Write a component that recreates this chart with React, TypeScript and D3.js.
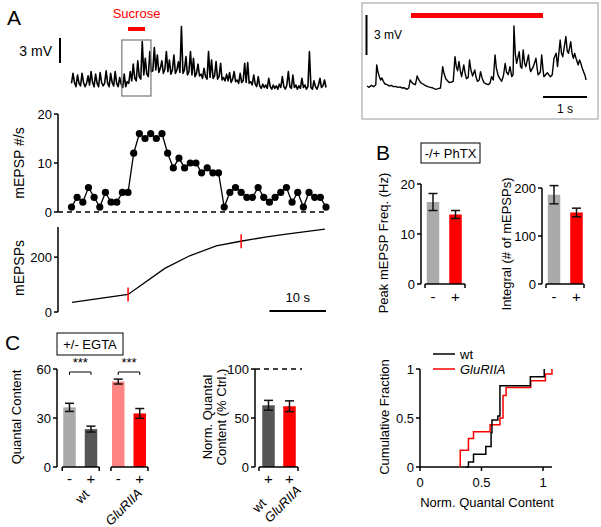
import React from "react";
import * as d3 from "d3";

const FONT = "Arial, 'Liberation Sans', Helvetica, sans-serif";

// ---------- Panel A data ----------
// main voltage trace (mV relative to baseline), evenly sampled over 45 s
const traceMain = [
  0.2, 1.4, 0.3, -0.2, 1.2, 0.2, -0.1, 1.4, 0.3, -0.2, 0.2, 1.1, 0.0, 1.6, 0.3, -0.2, 1.3, 0.2, -0.2, 1.5,
  0.3, -0.1, 0.2, 1.7, 0.2, -0.2, 1.4, 0.3, -0.1, 1.6, 0.2, -0.2, 0.9, 0.1,
  -0.3, 1.3, -0.2, 0.4, 0.2, 1.6, 0.5, 2.5, 0.8, 0.5, 2.9, 1.0, 0.7, 5.2, 1.2, 3.2, 1.3, 1.0, 4.0, 1.6,
  1.7, 4.5, 1.8, 3.6, 1.5, 2.0, 2.9, 1.4, 1.9, 4.0, 1.6, 3.0, 1.3, 1.8, 3.6, 1.4, 1.8, 2.8, 1.5, 7.0,
  1.4, 1.8, 3.4, 1.2, 1.6, 4.0, 1.2, 3.2, 1.0, 1.4, 2.5, 1.1,
  1.3, 0.8, 2.0, 1.0, 0.7, 4.0, 0.9, 3.0, 0.8, 1.1, 2.8, 0.7, 1.0, 2.6, 0.6, 0.9, 0.5, 1.3, 0.5, 1.5,
  0.3, 0.7, 1.6, 0.4, 0.6, 0.2, 1.4, 0.3, 0.5, 2.6, 0.3, 2.7, 0.2,
  0.4, 0.0, 1.2, 0.1, -0.2, 1.0, -0.1, -0.4, 0.1, -0.3, 0.0, -0.4, 0.8, -0.2, -0.5, 0.0, -0.4, -0.1, -0.5, 0.1,
  -0.3, 1.0, -0.2, -0.5, 0.0, 1.6, -0.2, -0.4, 1.2, -0.3, 0.0, -0.5, -0.1, -0.4, 0.8, -0.3, 0.0, -0.5, -0.2, 4.0,
  -0.3, -0.5, 0.5, -0.2, -0.5, 0.0, 0.8, -0.3, -0.1, 0.6, -0.3,
];
const traceDuration = 45; // s
const sucroseMain = [10, 13]; // s
const insetWindow = [8.9, 14.05]; // s

// inset trace: [time s, mV]
const insetTrace: [number, number][] = [
  [0, 0.15], [0.05, 0.05], [0.1, 0.2], [0.15, 0.1], [0.2, 0.25], [0.22, 1.73], [0.25, 1.2], [0.28, 0.85],
  [0.31, 0.6], [0.34, 0.75], [0.37, 0.5], [0.41, 0.3], [0.46, 0.25], [0.5, 0.15], [0.55, 0.2], [0.6, 0.1],
  [0.65, 0.12], [0.7, 0.05], [0.75, 0.08], [0.8, 0.0], [0.85, 0.02], [0.9, -0.1], [0.95, 0.0], [0.98, 0.6],
  [1.02, 0.4], [1.06, 0.3], [1.1, 0.25], [1.14, 0.9], [1.18, 0.6], [1.22, 0.4], [1.27, 0.3], [1.32, 0.2],
  [1.38, 0.1], [1.44, 0.05], [1.5, 0.0], [1.56, -0.1], [1.62, -0.05], [1.67, 0.0], [1.72, 1.6], [1.75, 1.1],
  [1.79, 0.7], [1.83, 0.55], [1.87, 0.4], [1.92, 0.45], [1.96, 0.5], [2.0, 2.35], [2.03, 1.6], [2.06, 1.3],
  [2.09, 2.0], [2.12, 1.3], [2.15, 0.85], [2.2, 1.73], [2.23, 1.1], [2.26, 0.7], [2.3, 0.8], [2.33, 2.1],
  [2.36, 1.4], [2.4, 0.9], [2.45, 1.35], [2.48, 0.8], [2.51, 0.5], [2.55, 0.6], [2.58, 1.23], [2.62, 0.7],
  [2.66, 0.4], [2.71, 0.3], [2.76, 0.25], [2.8, 0.4], [2.83, 0.85], [2.87, 0.6], [2.91, 2.48], [2.94, 1.5],
  [2.98, 0.95], [3.02, 0.7], [3.06, 0.5], [3.1, 0.9], [3.14, 1.85], [3.17, 1.2], [3.21, 1.0], [3.25, 1.6],
  [3.29, 0.85], [3.32, 1.0], [3.34, 4.66], [3.37, 2.6], [3.4, 1.85], [3.46, 2.73], [3.49, 1.6], [3.52, 1.48],
  [3.55, 2.86], [3.58, 1.9], [3.61, 1.6], [3.67, 2.48], [3.7, 1.5], [3.72, 1.23], [3.78, 1.6], [3.84, 2.23],
  [3.87, 1.4], [3.89, 0.98], [3.94, 1.2], [3.97, 2.48], [4.0, 1.4], [4.02, 0.85], [4.06, 1.0], [4.1, 1.15],
  [4.14, 0.95], [4.17, 0.85], [4.21, 1.0], [4.25, 2.23], [4.3, 2.6], [4.33, 1.6], [4.39, 3.6], [4.42, 2.6],
  [4.45, 2.35], [4.52, 3.86], [4.55, 2.8], [4.58, 2.6], [4.63, 3.48], [4.66, 2.6], [4.69, 2.23], [4.72, 2.6],
  [4.75, 2.23], [4.8, 1.73], [4.83, 2.1], [4.86, 1.85], [4.89, 1.5], [4.92, 1.23], [4.95, 1.0], [4.98, 0.6],
];
const sucroseInset = [1, 4];

// mEPSP frequency per second
const freqCounts = [
  1, 3, 2, 5, 3, 1, 4, 2, 2, 4, 4, 12, 16, 15, 16, 15, 16, 12, 9, 11, 9, 10, 10, 8, 9, 8, 8, 1, 4, 5,
  4, 3, 3, 5, 3, 2, 3, 4, 5, 2, 4, 1, 4, 3, 3, 1,
];
const freqTicks = [0, 10, 20];

// cumulative mEPSPs
const cumT = [0.1, 10, 16.5, 20.9, 25.6, 29.9, 34.5, 38, 44.8];
const cumV = [35, 64, 159, 205, 241, 258, 274, 284, 302];
const cumMarkT = [10, 30];
const cumMarkV = [64, 258];
const cumTicks = [0, 200];

// ---------- Panel B data ----------
const phtxCats = ["-", "+"];
const peakFreqMean = [16.4, 13.9];
const peakFreqErr = [1.7, 0.8];
const peakTicks = [0, 10, 20];
const integralMean = [186, 149];
const integralErr = [19, 9];
const integralTicks = [0, 100, 200];

// ---------- Panel C data ----------
const egtaGroups = ["wt", "GluRIIA"];
const quantalMinus = [36.5, 52.3];
const quantalMinusErr = [2.5, 1.5];
const quantalPlus = [23.2, 32.8];
const quantalPlusErr = [1.8, 3.0];
const quantalTicks = [0, 30, 60];
const normMean = [63, 62];
const normErr = [5, 5.5];
const normTicks = [0, 50, 100];

// cumulative distributions (step points: x, fraction)
const wtX = [0.372, 0.394, 0.435, 0.535, 0.578, 0.585, 0.633, 0.65, 0.897, 1.01];
const wtY = [0, 0.05, 0.13, 0.21, 0.35, 0.48, 0.52, 0.83, 0.92, 1.0];
const glX = [0.327, 0.327, 0.394, 0.435, 0.57, 0.65, 0.675, 0.7, 0.9, 1.02, 1.073];
const glY = [0, 0.17, 0.29, 0.36, 0.43, 0.5, 0.73, 0.81, 0.88, 0.95, 1.0];
const cdfTicks = [0, 0.5, 1];
const cdfTickLabels = ["0", "0.5", "1"];

const C_LGRAY = "#aaaaaa";
const C_DGRAY = "#555555";
const C_PINK = "#ff8484";
const C_RED = "#ff0000";

// rotated category label anchors (layout)
const egtaLabelPos = [[90, 495], [143, 494]];
const normLabelPos = [[267, 504], [302, 491]];

function ErrBar({ x, y1, y2, w = 9 }: { x: number; y1: number; y2: number; w?: number }) {
  return (
    <g stroke="#111" strokeWidth={1.5}>
      <line x1={x} x2={x} y1={y1} y2={y2} />
      <line x1={x - w / 2} x2={x + w / 2} y1={y1} y2={y1} />
      <line x1={x - w / 2} x2={x + w / 2} y1={y2} y2={y2} />
    </g>
  );
}

function YAxis({ x, scale, ticks, labels, top }: { x: number; scale: any; ticks: number[]; labels?: string[]; top?: number }) {
  const y0 = scale(ticks[0]);
  const y1 = top !== undefined ? top : scale(ticks[ticks.length - 1]);
  return (
    <g>
      <line x1={x} x2={x} y1={y0} y2={y1} stroke="#000" strokeWidth={1.5} />
      {ticks.map((t, i) => (
        <g key={i}>
          <line x1={x - 4} x2={x} y1={scale(t)} y2={scale(t)} stroke="#000" strokeWidth={1.5} />
          <text x={x - 6} y={scale(t)} dy="0.36em" textAnchor="end" fontSize={13}>
            {labels ? labels[i] : String(t)}
          </text>
        </g>
      ))}
    </g>
  );
}

function XSeg({ x1, x2, y }: { x1: number; x2: number; y: number }) {
  return (
    <g stroke="#000" strokeWidth={1.5}>
      <line x1={x1} x2={x2} y1={y} y2={y} />
      <line x1={x1} x2={x1} y1={y} y2={y + 4} />
      <line x1={x2} x2={x2} y1={y} y2={y + 4} />
    </g>
  );
}

function VLabel({ x, y, children, size = 13 }: { x: number; y: number; children: any; size?: number }) {
  return (
    <text transform={`translate(${x},${y}) rotate(-90)`} textAnchor="middle" dy="0.35em" fontSize={size}>
      {children}
    </text>
  );
}

export default function App() {
  // ----- Panel A scales -----
  const tX = d3.scaleLinear().domain([0, traceDuration]).range([71.5, 326]);
  const yTrace = d3.scaleLinear().domain([0, 3]).range([85, 60]);
  const traceLine = d3
    .line<number>()
    .x((_, i) => tX((i * traceDuration) / (traceMain.length - 1)))
    .y((d) => yTrace(d));

  const inX = d3.scaleLinear().domain([0, 5]).range([367, 587]);
  const inY = d3.scaleLinear().domain([0, 3]).range([88, 48]);
  const insetLine = d3
    .line<[number, number]>()
    .x((d) => inX(d[0]))
    .y((d) => inY(d[1]));

  const yF = d3.scaleLinear().domain([0, 20]).range([212, 114]);
  const freqLine = d3
    .line<number>()
    .x((_, i) => tX(i))
    .y((d) => yF(d));

  const yC = d3.scaleLinear().domain([0, 310]).range([312, 227]);
  const cumLine = d3
    .line<number>()
    .x((_, i) => tX(cumT[i]))
    .y((d) => yC(d));

  // ----- Panel B scales -----
  const bxL = d3.scalePoint().domain(phtxCats).range([433, 455.5]);
  const byL = d3.scaleLinear().domain([0, 20]).range([284, 184]);
  const bxR = d3.scalePoint().domain(phtxCats).range([554, 576.5]);
  const byR = d3.scaleLinear().domain([0, 200]).range([284, 188]);
  const bw = 12.5;

  // ----- Panel C scales -----
  const gX = d3.scalePoint().domain(egtaGroups).range([80.25, 129]);
  const yQ = d3.scaleLinear().domain([0, 60]).range([467, 369]);
  const nX = d3.scalePoint().domain(egtaGroups).range([268.5, 289.5]);
  const yN = d3.scaleLinear().domain([0, 100]).range([467, 369]);
  const cX = d3.scaleLinear().domain([0, 1]).range([420, 543]);
  const cY = d3.scaleLinear().domain([0, 1]).range([467, 369]);
  const stepLine = (xs: number[]) =>
    d3
      .line<number>()
      .x((_, i) => cX(xs[i]))
      .y((d) => cY(d))
      .curve(d3.curveStepAfter);

  const minusColors = [C_LGRAY, C_PINK];
  const plusColors = [C_DGRAY, C_RED];
  const off = 10.75;

  return (
    <svg
      width={601}
      height={527}
      style={{ position: "absolute", left: 0, top: 0, background: "#fff" }}
      fontFamily={FONT}
    >
      <rect x={0} y={0} width={601} height={527} fill="#fff" />
      {/* ================= Panel A ================= */}
      <text x={7} y={25} fontSize={21}>A</text>
      <text x={tX((sucroseMain[0] + sucroseMain[1]) / 2)} y={18} textAnchor="middle" fontSize={13} fill={C_RED}>
        Sucrose
      </text>
      <rect x={tX(sucroseMain[0])} y={27} width={tX(sucroseMain[1]) - tX(sucroseMain[0])} height={4} fill={C_RED} />
      <text x={52} y={51} dy="0.35em" textAnchor="end" fontSize={14}>3 mV</text>
      <line x1={60} x2={60} y1={38} y2={38 + (yTrace(0) - yTrace(3))} stroke="#000" strokeWidth={2} />
      <path d={traceLine(traceMain) || ""} fill="none" stroke="#000" strokeWidth={1.6} strokeLinejoin="round" />
      <rect
        x={tX(insetWindow[0])}
        y={40}
        width={tX(insetWindow[1]) - tX(insetWindow[0])}
        height={56}
        fill="none"
        stroke="#777"
        strokeWidth={1.2}
      />

      {/* inset */}
      <rect x={362} y={3} width={236} height={116} fill="none" stroke="#999" strokeWidth={1} />
      <rect x={inX(sucroseInset[0])} y={13} width={inX(sucroseInset[1]) - inX(sucroseInset[0])} height={5} fill={C_RED} />
      <line x1={366.5} x2={366.5} y1={15} y2={15 + (inY(0) - inY(3))} stroke="#000" strokeWidth={2} />
      <text x={374} y={39} fontSize={12}>3 mV</text>
      <path d={insetLine(insetTrace) || ""} fill="none" stroke="#000" strokeWidth={1.4} strokeLinejoin="round" />
      <line x1={inX(4)} x2={inX(5)} y1={97} y2={97} stroke="#000" strokeWidth={2} />
      <text x={(inX(4) + inX(5)) / 2} y={109} dy="0.35em" textAnchor="middle" fontSize={12}>1 s</text>

      {/* frequency plot */}
      <VLabel x={19} y={163} size={14}>mEPSP #/s</VLabel>
      <YAxis x={58} scale={yF} ticks={freqTicks} />
      <line x1={58} x2={326} y1={yF(0)} y2={yF(0)} stroke="#000" strokeWidth={1.5} strokeDasharray="5,4" />
      <path d={freqLine(freqCounts) || ""} fill="none" stroke="#000" strokeWidth={1.3} />
      {freqCounts.map((c, i) => (
        <circle key={i} cx={tX(i)} cy={yF(c)} r={3.6} fill="#000" />
      ))}

      {/* cumulative plot */}
      <VLabel x={19} y={268} size={14}>mEPSPs</VLabel>
      <YAxis x={58} scale={yC} ticks={cumTicks} top={227} />
      <path d={cumLine(cumV) || ""} fill="none" stroke="#000" strokeWidth={1.3} />
      {cumMarkT.map((t, i) => (
        <line key={i} x1={tX(t)} x2={tX(t)} y1={yC(cumMarkV[i]) - 7} y2={yC(cumMarkV[i]) + 7} stroke={C_RED} strokeWidth={1.5} />
      ))}
      <line x1={tX(35)} x2={tX(45)} y1={311} y2={311} stroke="#000" strokeWidth={2} />
      <text x={(tX(35) + tX(45)) / 2} y={297} dy="0.35em" textAnchor="middle" fontSize={13}>10 s</text>

      {/* ================= Panel B ================= */}
      <text x={376} y={160} fontSize={21}>B</text>
      <rect x={421} y={143} width={59} height={20} fill="none" stroke="#000" strokeWidth={1} />
      <text x={450.5} y={153} dy="0.35em" textAnchor="middle" fontSize={13}>-/+ PhTX</text>

      <VLabel x={383} y={243}>Peak mEPSP Freq. (Hz)</VLabel>
      {phtxCats.map((c, i) => (
        <g key={c}>
          <rect x={(bxL(c) as number) - bw / 2} y={byL(peakFreqMean[i])} width={bw} height={byL(0) - byL(peakFreqMean[i])} fill={i === 0 ? C_LGRAY : C_RED} />
          <ErrBar x={bxL(c) as number} y1={byL(peakFreqMean[i] + peakFreqErr[i])} y2={byL(peakFreqMean[i] - peakFreqErr[i])} />
          <text x={bxL(c) as number} y={297} dy="0.35em" textAnchor="middle" fontSize={15}>{c}</text>
        </g>
      ))}
      <YAxis x={421} scale={byL} ticks={peakTicks} />
      <XSeg x1={425} x2={465} y={284} />

      <VLabel x={506} y={244}>Integral (# of mEPSPs)</VLabel>
      {phtxCats.map((c, i) => (
        <g key={c}>
          <rect x={(bxR(c) as number) - bw / 2} y={byR(integralMean[i])} width={bw} height={byR(0) - byR(integralMean[i])} fill={i === 0 ? C_LGRAY : C_RED} />
          <ErrBar x={bxR(c) as number} y1={byR(integralMean[i] + integralErr[i])} y2={byR(integralMean[i] - integralErr[i])} />
          <text x={bxR(c) as number} y={297} dy="0.35em" textAnchor="middle" fontSize={15}>{c}</text>
        </g>
      ))}
      <YAxis x={542} scale={byR} ticks={integralTicks} />
      <XSeg x1={546} x2={584} y={284} />

      {/* ================= Panel C ================= */}
      <text x={5} y={350} fontSize={21}>C</text>
      <rect x={57} y={333} width={66} height={22} fill="none" stroke="#000" strokeWidth={1} />
      <text x={90} y={344} dy="0.35em" textAnchor="middle" fontSize={13}>+/- EGTA</text>

      <VLabel x={16} y={417}>Quantal Content</VLabel>
      <YAxis x={57} scale={yQ} ticks={quantalTicks} />
      {egtaGroups.map((g, i) => {
        const cx = gX(g) as number;
        const xm = cx - off;
        const xp = cx + off;
        return (
          <g key={g}>
            <rect x={xm - bw / 2} y={yQ(quantalMinus[i])} width={bw} height={yQ(0) - yQ(quantalMinus[i])} fill={minusColors[i]} />
            <rect x={xp - bw / 2} y={yQ(quantalPlus[i])} width={bw} height={yQ(0) - yQ(quantalPlus[i])} fill={plusColors[i]} />
            <ErrBar x={xm} y1={yQ(quantalMinus[i] + quantalMinusErr[i])} y2={yQ(quantalMinus[i] - quantalMinusErr[i])} />
            <ErrBar x={xp} y1={yQ(quantalPlus[i] + quantalPlusErr[i])} y2={yQ(quantalPlus[i] - quantalPlusErr[i])} />
            <XSeg x1={cx - 18} x2={cx + 19} y={467} />
            <text x={xm} y={479} dy="0.35em" textAnchor="middle" fontSize={15}>-</text>
            <text x={xp} y={479} dy="0.35em" textAnchor="middle" fontSize={15}>+</text>
            {/* significance bracket */}
            <g stroke="#000" strokeWidth={1}>
              <line x1={xm} x2={xp} y1={372} y2={372} />
              <line x1={xm} x2={xm} y1={372} y2={375} />
              <line x1={xp} x2={xp} y1={372} y2={375} />
            </g>
            <text x={cx} y={367} textAnchor="middle" fontSize={13}>***</text>
            <text
              transform={`translate(${egtaLabelPos[i][0]},${egtaLabelPos[i][1]}) rotate(-45)`}
              textAnchor="end"
              fontSize={13}
              fontStyle={g === "GluRIIA" ? "italic" : "normal"}
            >
              {g}
            </text>
          </g>
        );
      })}

      {/* normalized quantal content */}
      <text transform={`translate(207,417) rotate(-90)`} textAnchor="middle" dy="0.35em" fontSize={13}>Norm. Quantal</text>
      <text transform={`translate(221,417) rotate(-90)`} textAnchor="middle" dy="0.35em" fontSize={13}>Content (% Ctrl.)</text>
      <YAxis x={255} scale={yN} ticks={normTicks} />
      <line x1={255} x2={302} y1={yN(100)} y2={yN(100)} stroke="#000" strokeWidth={1.5} strokeDasharray="5,4" />
      {egtaGroups.map((g, i) => {
        const cx = nX(g) as number;
        return (
          <g key={g}>
            <rect x={cx - bw / 2} y={yN(normMean[i])} width={bw} height={yN(0) - yN(normMean[i])} fill={plusColors[i]} />
            <ErrBar x={cx} y1={yN(normMean[i] + normErr[i])} y2={yN(normMean[i] - normErr[i])} />
            <text x={cx} y={479} dy="0.35em" textAnchor="middle" fontSize={15}>+</text>
            <text
              transform={`translate(${normLabelPos[i][0]},${normLabelPos[i][1]}) rotate(-45)`}
              textAnchor="end"
              fontSize={13}
              fontStyle={g === "GluRIIA" ? "italic" : "normal"}
            >
              {g}
            </text>
          </g>
        );
      })}
      <XSeg x1={259} x2={298} y={467} />

      {/* cumulative fraction */}
      <VLabel x={384} y={417}>Cumulative Fraction</VLabel>
      <YAxis x={420} scale={cY} ticks={cdfTicks} labels={cdfTickLabels} />
      <line x1={420} x2={552} y1={467} y2={467} stroke="#000" strokeWidth={1.5} />
      {cdfTicks.map((t, i) => (
        <g key={i}>
          <line x1={cX(t)} x2={cX(t)} y1={467} y2={471} stroke="#000" strokeWidth={1.5} />
          <text x={cX(t)} y={482} dy="0.35em" textAnchor="middle" fontSize={13}>{cdfTickLabels[i]}</text>
        </g>
      ))}
      <text x={487} y={502} dy="0.35em" textAnchor="middle" fontSize={13}>Norm. Quantal Content</text>
      <path d={stepLine(glX)(glY) || ""} fill="none" stroke={C_RED} strokeWidth={1.5} />
      <path d={stepLine(wtX)(wtY) || ""} fill="none" stroke="#000" strokeWidth={1.5} />
      <line x1={433} x2={455} y1={354} y2={354} stroke="#000" strokeWidth={1.5} />
      <text x={460} y={354} dy="0.35em" fontSize={13}>wt</text>
      <line x1={433} x2={455} y1={369} y2={369} stroke={C_RED} strokeWidth={1.5} />
      <text x={460} y={369} dy="0.35em" fontSize={13} fontStyle="italic">GluRIIA</text>
    </svg>
  );
}
